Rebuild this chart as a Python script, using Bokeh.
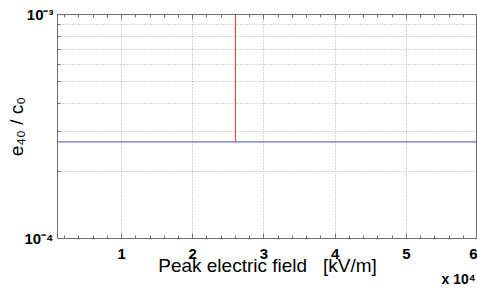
from bokeh.plotting import figure
from bokeh.models import (Range1d, FixedTicker, LinearAxis, Label)
from bokeh.embed import file_html
from bokeh.resources import INLINE

# ---- data ----
field_span = [1000, 60000]          # V/m range of the x axis
e40_level = [2.7e-4, 2.7e-4]        # horizontal level of e40/c0
threshold_field = [26000, 26000]    # vertical marker position
threshold_e40 = [2.7e-4, 1e-3]      # vertical marker extent
x_major = [10000, 20000, 30000, 40000, 50000, 60000]
x_major_labels = ["1", "2", "3", "4", "5", "6"]
x_minor = [2000 * i for i in range(1, 30)]
y_major = [1e-4, 1e-3]
y_major_labels = ["10\u207b\u2074", "10\u207b\u00b3"]
y_minor = [2e-4, 3e-4, 4e-4, 5e-4, 6e-4, 7e-4, 8e-4, 9e-4]

FONT = "Liberation Sans"
AX = "#707070"
GRID = "#a8a8a8"

p = figure(width=477, height=294, output_backend="svg", toolbar_location=None,
           x_range=Range1d(field_span[0], field_span[1]),
           y_range=Range1d(y_major[0], y_major[1]), y_axis_type="log",
           min_border_left=57, min_border_right=0, min_border_top=14,
           min_border_bottom=55)
p.background_fill_color = "white"
p.border_fill_color = "white"
p.outline_line_color = AX

# x axis
xa = p.xaxis[0]
xa.ticker = FixedTicker(ticks=x_major, minor_ticks=x_minor)
xa.major_label_overrides = {t: l for t, l in zip(x_major, x_major_labels)}
xa.major_label_text_font = FONT
xa.major_label_text_font_style = "bold"
xa.major_label_text_font_size = "15px"
xa.major_label_text_color = "black"
xa.major_label_standoff = 10
xa.major_tick_in = 5
xa.major_tick_out = 0
xa.minor_tick_in = 3
xa.minor_tick_out = 0
xa.axis_line_color = AX
xa.major_tick_line_color = AX
xa.minor_tick_line_color = AX
xa.axis_label = "Peak electric field\u00a0\u00a0\u00a0[kV/m]"
xa.axis_label_text_font = FONT
xa.axis_label_text_font_style = "normal"
xa.axis_label_text_font_size = "19px"
xa.axis_label_text_color = "black"
xa.axis_label_standoff = -7

# top axis (box)
top = LinearAxis(ticker=FixedTicker(ticks=x_major, minor_ticks=x_minor),
                 major_label_overrides={t: " " for t in x_major},
                 major_label_text_font_size="1px", major_tick_in=5, major_tick_out=0,
                 minor_tick_in=3, minor_tick_out=0, axis_line_color=AX,
                 major_tick_line_color=AX, minor_tick_line_color=AX,
                 major_label_standoff=0)
p.add_layout(top, "above")

# y axis
ya = p.yaxis[0]
ya.ticker = FixedTicker(ticks=y_major, minor_ticks=y_minor)
ya.major_label_overrides = {t: l for t, l in zip(y_major, y_major_labels)}
ya.major_label_text_font = FONT
ya.major_label_text_font_style = "bold"
ya.major_label_text_font_size = "15px"
ya.major_label_text_color = "black"
ya.major_label_standoff = 4
ya.major_tick_in = 5
ya.major_tick_out = 0
ya.minor_tick_in = 3
ya.minor_tick_out = 0
ya.axis_line_color = AX
ya.major_tick_line_color = AX
ya.minor_tick_line_color = AX
ya.axis_label = "e\u2084\u2080 / c\u2080"
ya.axis_label_text_font = FONT
ya.axis_label_text_font_style = "normal"
ya.axis_label_text_font_size = "19px"
ya.axis_label_text_color = "black"
ya.axis_label_standoff = -6

# grids
p.xgrid.grid_line_color = GRID
p.xgrid.grid_line_dash = "1 2"
p.ygrid.grid_line_color = None
p.ygrid.minor_grid_line_color = GRID
p.ygrid.minor_grid_line_dash = "1 2"

# data lines
p.line(field_span, e40_level, line_color="#6f6fc0", line_width=1.2)
p.line(threshold_field, threshold_e40, line_color="#e05050", line_width=1.2)

# x exponent label in the bottom side panel
p.add_layout(Label(x=384, y=8, x_units="screen", y_units="screen", text="x 10\u2074",
                   text_font=FONT, text_font_size="14px", text_font_style="bold",
                   text_color="black", text_align="left"), "below")

open("out.html", "w").write(file_html(p, INLINE))
